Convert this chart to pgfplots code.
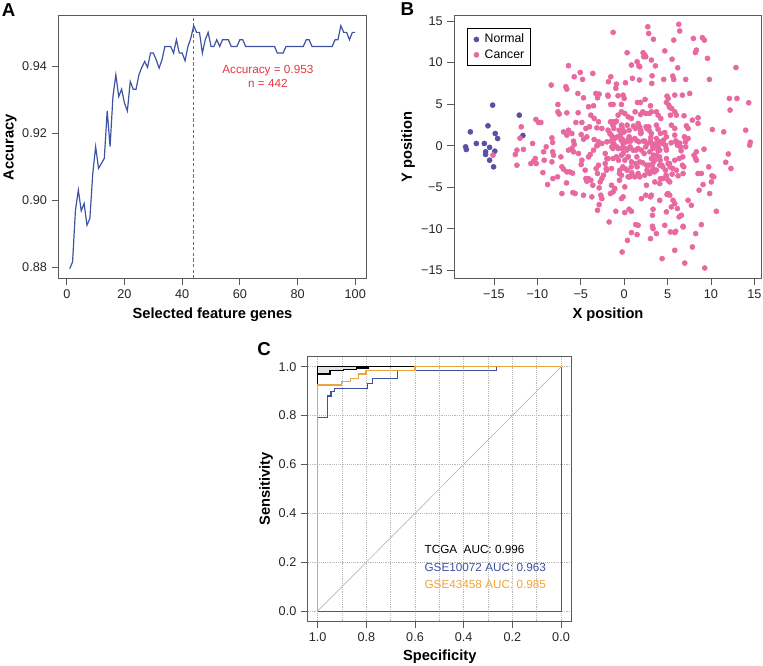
\documentclass[border=0pt]{standalone}
\usepackage{pgfplots}
\pgfplotsset{compat=1.18}
\usepackage{pgfplotstable}
\usepackage{fontspec}
\setmainfont{Liberation Sans}
\definecolor{lineblue}{RGB}{62,84,163}
\definecolor{accred}{RGB}{226,58,62}
\definecolor{normalc}{RGB}{88,80,160}
\definecolor{cancerc}{RGB}{232,104,160}
\definecolor{rocblue}{RGB}{61,82,160}
\definecolor{rocorange}{RGB}{238,164,60}
\definecolor{framecol}{RGB}{90,90,90}

\pgfplotstableread{
n acc
1 0.8795
2 0.8815
3 0.897
4 0.903
5 0.8968
6 0.899
7 0.8925
8 0.8945
9 0.908
10 0.916
11 0.9095
12 0.911
13 0.9125
14 0.9267
15 0.916
16 0.931
17 0.9375
18 0.931
19 0.9332
20 0.929
21 0.9267
22 0.9355
23 0.9332
24 0.9332
25 0.9375
26 0.9397
27 0.9415
28 0.9397
29 0.944
30 0.944
31 0.942
32 0.9395
33 0.942
34 0.946
35 0.946
36 0.946
37 0.944
38 0.948
39 0.944
40 0.944
41 0.9417
42 0.946
43 0.9485
44 0.9522
45 0.9502
46 0.9502
47 0.944
48 0.948
49 0.9502
50 0.946
51 0.946
52 0.948
53 0.946
54 0.948
55 0.948
56 0.948
57 0.946
58 0.946
59 0.946
60 0.948
61 0.948
62 0.946
63 0.946
64 0.946
65 0.946
66 0.946
67 0.946
68 0.946
69 0.946
70 0.946
71 0.946
72 0.946
73 0.944
74 0.944
75 0.944
76 0.946
77 0.946
78 0.946
79 0.946
80 0.946
81 0.946
82 0.946
83 0.948
84 0.948
85 0.946
86 0.946
87 0.946
88 0.946
89 0.946
90 0.946
91 0.946
92 0.946
93 0.948
94 0.948
95 0.9522
96 0.9502
97 0.9502
98 0.948
99 0.9502
100 0.9502
}\accdata

\pgfplotstableread{
x y
-18.26 -0.14
-18.18 -0.46
-17.72 1.66
-17.03 0.26
-16.11 0.26
-15.96 -0.74
-15.96 -1.06
-15.69 2.39
-15.5 -0.2
-15.5 -1.75
-15.15 4.88
-15.04 -2.55
-14.9 -0.66
-14.85 1.46
-14.58 0.86
-12.08 3.67
-11.66 1.22
}\normaldata

\pgfplotstableread{
x y
-15.11 -1.14
-12.35 -0.54
-12.54 -1.06
-12.35 -2.35
-11.85 2.27
-12.0 0.9
-11.6 -0.45
-10.74 -2.15
-10.24 -1.55
-10.43 -1.87
-10.13 -2.15
-10.55 0.26
-10.17 3.15
-9.86 2.79
-9.59 2.79
-9.28 -0.74
-8.98 -0.14
-9.21 -1.75
-9.36 -3.24
-8.82 -4.68
-8.32 -1.95
-8.13 -1.14
-8.24 -0.74
-8.21 -3.96
-7.67 -3.75
-8.32 0.94
-8.24 0.38
-8.4 7.29
-7.63 4.96
-7.63 4.07
-7.48 3.8
-7.29 -1.35
-7.17 -2.55
-6.98 -2.83
-7.17 -5.76
-6.98 1.66
-6.41 1.86
-6.6 1.26
-6.02 1.46
-6.6 3.95
-6.6 -3.15
-6.29 -3.15
-6.64 -4.48
-6.41 -0.54
-6.02 -0.34
-5.83 -0.74
-5.83 0.54
-5.75 0.14
-5.91 -5.64
-5.64 -5.76
-5.95 -3.3
-6.41 9.62
-6.72 7.09
-6.6 6.8
-5.75 8.29
-5.06 8.81
-4.79 7.97
-5.33 6.28
-4.68 5.76
-5.3 3.96
-5.56 2.79
-4.87 2.79
-5.26 -0.94
-4.87 -1.75
-4.95 -2.27
-4.95 1.34
-4.68 0.78
-4.3 1.06
-4.49 -2.95
-4.41 -3.96
-4.3 -4.28
-4.1 -3.96
-3.84 -4.16
-4.68 -5.96
-3.72 -6.16
-3.61 -4.76
-4.1 -1.35
-3.91 -1.06
-3.53 -0.54
-3.15 -0.02
-4.1 4.68
-3.53 4.8
-3.84 3.67
-3.45 3.27
-2.95 2.87
-4.41 2.07
-3.99 2.27
-3.15 2.15
-2.57 2.07
-3.45 0.74
-2.95 0.46
-2.57 0.26
-3.07 0.06
-3.61 8.69
-3.26 6.28
-2.88 6.2
-3.07 5.76
-2.95 -2.35
-3.22 -2.75
-3.07 -3.35
-2.76 -4.36
-2.57 -3.96
-2.38 -3.55
-2.88 -5.08
-2.69 -5.96
-2.57 -6.37
-2.88 -7.09
-3.07 -7.77
-2.18 -0.94
-1.99 -1.55
-2.18 -2.15
-2.07 -2.75
-1.99 0.46
-1.88 6.08
-1.27 13.63
2.72 14.3
2.83 13.5
3.37 12.8
6.29 14.6
6.4 13.8
5.71 12.7
7.97 12.9
9.01 13.0
9.24 12.7
0.34 11.18
2.18 11.18
2.37 10.9
2.49 10.7
2.26 10.7
4.68 11.4
5.52 10.4
8.2 11.2
8.32 11.5
9.6 10.5
0.84 9.7
1.49 10.1
1.68 9.6
1.8 9.5
3.14 10.3
3.6 9.6
6.17 9.37
12.88 9.4
-1.54 8.29
-1.81 7.69
-0.89 7.4
-0.96 6.9
0.15 7.57
0.95 8.1
1.76 7.9
3.22 8.4
3.18 7.49
4.56 7.97
5.6 8.37
5.71 7.97
7.09 7.97
9.82 7.97
-1.85 5.96
-0.7 6.0
-0.12 6.08
0.0 5.68
-1.27 4.96
-1.54 4.96
-0.31 4.96
1.53 5.2
1.88 5.2
2.41 5.56
3.03 4.8
4.94 5.96
5.06 5.68
4.87 5.2
5.14 4.88
5.25 4.6
5.83 6.08
6.71 6.08
7.55 6.28
12.12 5.68
13.0 5.68
14.35 5.16
12.2 4.28
-0.7 3.67
-0.31 4.07
0.07 3.87
0.46 3.47
0.84 3.27
1.26 4.07
1.88 3.75
2.49 3.87
2.14 4.07
3.14 4.07
3.72 4.07
3.91 3.67
4.22 3.27
5.48 4.47
5.83 4.07
6.02 3.67
5.33 3.67
6.9 3.6
7.86 3.07
8.51 3.35
8.51 2.67
10.16 1.94
11.47 1.66
14.0 1.86
14.53 0.42
-1.58 2.87
-1.27 2.87
-1.08 2.79
-0.89 2.95
-0.31 2.47
-0.2 2.07
-0.04 1.66
0.34 2.47
0.57 1.86
1.61 2.67
1.8 2.27
1.91 1.86
1.91 1.47
2.64 2.07
2.87 1.86
3.14 1.47
3.72 2.47
3.91 1.98
4.18 1.47
4.68 1.58
4.87 1.06
5.44 2.47
5.83 2.07
7.17 2.39
7.36 2.07
6.02 0.46
6.4 0.3
7.09 0.66
7.36 0.86
1.22 0.86
1.68 0.46
-1.85 1.86
-1.65 1.47
-1.35 1.06
-1.5 0.54
-1.19 0.26
-0.58 1.86
-0.43 1.26
-0.2 0.78
-0.12 0.26
0.26 0.46
0.57 1.06
0.72 0.54
2.37 0.54
2.64 0.26
3.03 0.54
3.72 0.26
4.1 0.46
4.41 0.26
-1.19 -0.14
-0.69 -0.34
-0.12 -0.14
0.46 -0.34
1.03 -0.54
1.61 -0.34
1.99 -0.54
2.49 -0.14
2.95 -0.74
3.33 -0.34
3.72 -0.14
4.1 -0.54
4.87 -0.54
6.13 0.06
7.09 -0.14
8.32 -0.74
9.2 -0.42
12.0 -1.0
14.46 0.06
-1.85 -1.55
-1.27 -1.55
-0.89 -1.35
-0.31 -1.15
0.07 -1.75
0.46 -1.35
0.84 -1.95
1.34 -2.15
1.8 -1.95
2.57 -2.35
3.14 -1.55
3.53 -1.75
3.72 -1.15
4.1 -2.35
4.87 -1.55
5.06 -2.15
5.83 -1.75
6.33 -1.55
6.71 -2.35
8.05 -1.15
8.24 -1.55
8.32 -1.75
9.74 -2.55
11.7 -2.0
12.3 -2.75
-2.04 -2.95
-1.46 -2.75
-0.5 -2.95
-0.31 -3.55
0.07 -2.75
0.46 -3.75
0.65 -3.75
1.22 -3.75
1.8 -3.75
2.37 -3.55
2.64 -2.95
3.14 -3.15
3.33 -2.75
3.72 -2.95
4.18 -3.96
4.48 -3.96
4.87 -3.75
5.06 -4.16
6.02 -2.95
6.21 -3.63
6.79 -3.35
8.51 -3.35
8.89 -3.35
10.12 -3.63
10.32 -3.75
-1.46 -4.76
-1.08 -5.16
-1.27 -5.56
-1.58 -5.76
0.07 -4.96
-0.12 -6.16
-0.31 -6.37
1.99 -6.37
2.49 -5.96
2.57 -4.76
3.03 -6.16
3.14 -5.96
3.53 -4.36
4.1 -4.56
4.94 -5.88
5.25 -4.36
7.36 -6.57
7.74 -7.17
8.63 -5.36
9.09 -4.68
9.85 -5.76
10.05 -4.36
5.06 -5.76
5.25 -5.96
5.63 -6.57
5.83 -6.97
5.44 -7.37
4.87 -7.97
6.13 -7.57
6.59 -8.37
6.33 -8.57
6.79 -9.78
4.1 -6.57
3.33 -7.65
3.26 -8.37
0.84 -7.89
0.57 -7.65
0.07 -8.05
-0.96 -7.89
-1.73 -9.18
10.62 -7.89
1.34 -9.5
1.61 -9.58
0.84 -10.46
1.49 -10.7
0.38 -11.39
3.03 -11.19
3.26 -9.7
3.33 -9.98
3.72 -10.58
4.68 -9.58
5.33 -10.38
5.83 -10.46
5.94 -10.3
6.79 -9.7
8.24 -10.58
8.89 -9.5
-0.23 -12.79
4.37 -13.59
5.83 -12.59
6.98 -14.12
7.86 -12.19
9.28 -14.72
-1.5 1.27
-1.42 -0.14
-1.3 -0.34
-1.11 0.86
-1.19 2.07
-1.3 2.47
-0.84 -0.14
-0.77 1.06
-0.65 -1.75
-0.54 -3.35
-0.54 -4.16
-0.35 0.66
-0.23 -0.34
-0.12 -0.94
0.0 1.67
-0.15 -2.55
0.31 -0.54
0.46 -1.35
0.42 0.66
0.35 -2.95
0.69 0.66
0.69 -0.14
0.81 -2.55
0.88 -3.27
1.07 2.35
1.3 2.07
1.38 0.66
1.34 -0.54
1.46 -1.35
1.5 -2.55
1.61 -3.35
1.96 1.55
2.22 0.54
2.15 -2.07
2.3 -0.94
2.53 2.27
2.84 2.27
2.92 3.88
2.84 -2.35
2.95 -3.35
3.07 0.98
3.18 0.26
3.3 -0.14
3.38 -1.14
3.3 -2.15
3.49 -3.15
3.72 0.86
3.91 -0.14
3.91 -0.62
4.07 -1.35
4.14 -1.75
4.33 -2.35
4.45 -2.55
4.53 0.66
4.76 0.06
4.83 -0.34
4.76 -2.95
4.83 -3.55
5.22 -2.15
5.29 -2.55
5.6 -2.75
5.41 0.34
5.52 -3.43
5.83 1.27
5.95 0.58
6.48 -0.14
6.56 -0.62
6.75 -1.35
6.87 -2.55
6.94 1.06
7.06 0.46
}\cancerdata

\pgfplotsset{
  panel/.style={
    scale only axis,
    anchor=south west,
    axis line style={framecol, line width=0.7pt},
    tick style={framecol, line width=0.6pt},
    tick align=outside,
    major tick length=5pt,
    xtick pos=left, ytick pos=left,
    ticklabel style={font=\fontsize{9.5}{11}\selectfont, text=black!85},
    /pgf/number format/assume math mode=true,
    clip=true,
  }
}

\begin{document}
\begin{tikzpicture}[x=1pt,y=1pt]
\useasboundingbox (0,0) rectangle (572.25,498.75);

% ---------------- Panel A ----------------
\begin{axis}[panel,
  at={(43.7pt,290pt)}, width=231.3pt, height=197.5pt,
  xmin=-2.96, xmax=103.96, ymin=0.8766, ymax=0.9554,
  xtick={0,20,40,60,80,100},
  ytick={0.88,0.90,0.92,0.94},
  yticklabel style={/pgf/number format/fixed,/pgf/number format/fixed zerofill,/pgf/number format/precision=2},
]
\addplot[draw=accred, line width=0.8pt, dash pattern=on 2.4pt off 1.8pt] coordinates {(44,0.8766) (44,0.9554)};
\addplot[color=lineblue, line width=0.9pt] table[x=n, y=acc] {\accdata};
\node[text=accred, font=\fontsize{8.8}{10.5}\selectfont, align=center] at (axis cs:69.7,0.9371) {Accuracy = 0.953\\n = 442};
\end{axis}

% ---------------- Panel B ----------------
\begin{axis}[panel,
  at={(340.5pt,290pt)}, width=230.8pt, height=197.5pt,
  xmin=-19.6, xmax=15.85, ymin=-15.96, ymax=15.72,
  xtick={-15,-10,-5,0,5,10,15},
  xticklabels={−15,−10,−5,0,5,10,15},
  ytick={-15,-10,-5,0,5,10,15},
  yticklabels={−15,−10,−5,0,5,10,15},
  legend style={at={(0.043,0.949)}, anchor=north west, draw=black, fill=white,
    font=\fontsize{9.2}{11}\selectfont, inner xsep=2.5pt, inner ysep=2pt, row sep=-0.5pt,
    /tikz/every even column/.append style={column sep=1pt}},
  legend cell align=left,
  legend image code/.code={\path (0cm,0cm) (0.28cm,0cm); \draw[#1] plot coordinates {(0.14cm,0cm)};},
]
\addplot[only marks, mark=*, mark size=1.9pt, color=normalc, mark options={draw=normalc, fill=normalc}] table[x=x,y=y] {\normaldata};
\addlegendentry{Normal}
\addplot[only marks, mark=*, mark size=1.9pt, color=cancerc, mark options={draw=cancerc, fill=cancerc}] table[x=x,y=y] {\cancerdata};
\addlegendentry{Cancer}
\end{axis}

% ---------------- Panel C ----------------
\begin{axis}[panel,
  at={(230.8pt,33pt)}, width=198pt, height=198.2pt,
  x dir=reverse,
  xmin=-0.044, xmax=1.041, ymin=-0.041, ymax=1.041,
  xtick={0,0.2,0.4,0.6,0.8,1},
  minor xtick={0.1,0.3,0.5,0.7,0.9},
  ytick={0,0.2,0.4,0.6,0.8,1},
  xmajorgrids, xminorgrids, ymajorgrids,
  grid style={densely dotted, gray!55},
  minor grid style={densely dotted, gray!55},
  minor tick length=0pt,
  xticklabel style={/pgf/number format/fixed,/pgf/number format/fixed zerofill,/pgf/number format/precision=1},
  yticklabel style={/pgf/number format/fixed,/pgf/number format/fixed zerofill,/pgf/number format/precision=1},
]
\addplot[color=gray!55, line width=0.5pt] coordinates {(1,0) (0,1)};
\addplot[color=framecol, line width=0.6pt] coordinates {(1,0) (0,0) (0,1)};
\addplot[fill=gray!22, draw=black, line width=0.5pt] coordinates {(1,1) (1,0.97) (0.949,0.97) (0.949,0.986) (0.894,0.986) (0.894,0.99) (0.84,0.99) (0.84,0.995) (0.79,0.995) (0.79,1)} -- cycle;
\addplot[color=rocblue, line width=1pt] coordinates {(1,0) (1,0.793) (0.960,0.793) (0.960,0.880) (0.945,0.880) (0.945,0.898) (0.932,0.898) (0.932,0.911) (0.796,0.911) (0.796,0.932) (0.774,0.932) (0.774,0.952) (0.673,0.952) (0.673,0.986) (0.264,0.986) (0.264,1) (0,1)};
\addplot[color=black, line width=1pt] coordinates {(1,0) (1,0.97) (0.949,0.97) (0.949,0.986) (0.894,0.986) (0.894,0.99) (0.84,0.99) (0.84,0.995) (0.79,0.995) (0.79,1) (0.58,1)};
\addplot[color=black, line width=0.6pt] coordinates {(1,1) (0.79,1)};
\addplot[color=rocorange, line width=1pt] coordinates {(1,0) (1,0.925) (0.901,0.925) (0.901,0.939) (0.864,0.939) (0.864,0.952) (0.833,0.952) (0.833,0.970) (0.801,0.970) (0.801,0.986) (0.6,0.986) (0.6,1) (0,1)};
\node[anchor=west, font=\fontsize{8.8}{10}\selectfont, text=black] at (axis cs:0.58,0.25) {TCGA\ \ AUC: 0.996};
\node[anchor=west, font=\fontsize{8.8}{10}\selectfont, text=rocblue] at (axis cs:0.58,0.18) {GSE10072 AUC: 0.963};
\node[anchor=west, font=\fontsize{8.8}{10}\selectfont, text=rocorange] at (axis cs:0.58,0.11) {GSE43458 AUC: 0.985};
\end{axis}

% ---------------- Labels ----------------
\tikzset{axlab/.style={font=\bfseries\fontsize{11}{13}\selectfont}}
\node[axlab, rotate=90] at (7.5,388.5) {Accuracy};
\node[axlab] at (159.4,262.5) {Selected feature genes};
\node[axlab, rotate=90] at (306,388.5) {Y position};
\node[axlab] at (456,262.5) {X position};
\node[axlab, rotate=90] at (199.5,132.1) {Sensitivity};
\node[axlab] at (329.8,6.5) {Specificity};
\node[font=\bfseries\fontsize{14}{16}\selectfont] at (6.5,491) {A};
\node[font=\bfseries\fontsize{14}{16}\selectfont] at (305.5,492) {B};
\node[font=\bfseries\fontsize{14}{16}\selectfont] at (198,237) {C};
\end{tikzpicture}
\end{document}
